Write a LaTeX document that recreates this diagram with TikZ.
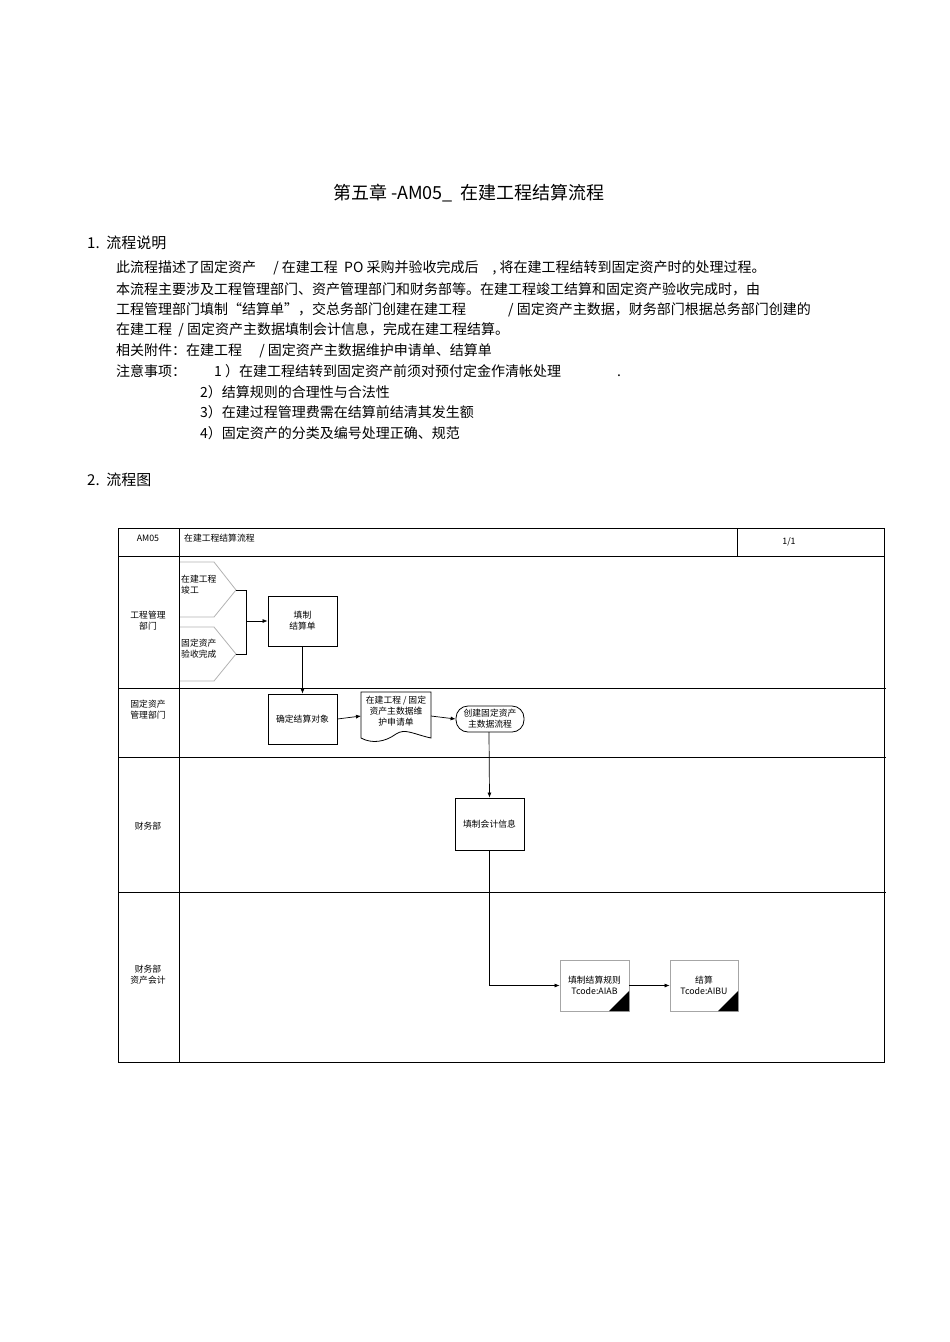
\documentclass[tikz,border=0pt]{standalone}
\usepackage{fontspec}
\setmainfont{Liberation Sans}
\newfontfamily\cjk{Noto Sans CJK SC}
\usetikzlibrary{arrows.meta}
\begin{document}
\begin{tikzpicture}[x=1pt,y=-1pt,
  bt/.style={anchor=west,inner sep=0pt,font=\fontsize{14}{16}\selectfont},
  sm/.style={font=\fontsize{8.8}{10.8}\selectfont,align=center,inner sep=0pt},
  box/.style={draw,line width=0.8pt},
  arr/.style={-{Latex[length=5pt,width=4pt]},line width=0.7pt},
  ln/.style={line width=0.7pt}]
\useasboundingbox (0,0) rectangle (950,1342);
\cjk
\node[inner sep=0pt,font=\fontsize{18}{20}\selectfont] (title) at (469,193) {第五章 -AM05\_\ \ 在建工程结算流程};
\node[bt,font=\fontsize{15}{17}\selectfont] (h1) at (87,243) {1.\ \ 流程说明};
\node[bt] (l1) at (116,268) {此流程描述了固定资产\quad\ / 在建工程\ \ PO 采购并验收完成后\quad , 将在建工程结转到固定资产时的处理过程。};
\node[bt] (l2) at (116,289) {本流程主要涉及工程管理部门、资产管理部门和财务部等。在建工程竣工结算和固定资产验收完成时，由};
\node[bt] (l3) at (116,310) {工程管理部门填制“结算单”，交总务部门创建在建工程\qquad\quad / 固定资产主数据，财务部门根据总务部门创建的};
\node[bt] (l4) at (116,330) {在建工程\ \ / 固定资产主数据填制会计信息，完成在建工程结算。};
\node[bt] (l5) at (116,351) {相关附件：在建工程\quad\ / 固定资产主数据维护申请单、结算单};
\node[bt] (l6) at (116,371) {注意事项：\qquad 1 ）在建工程结转到固定资产前须对预付定金作清帐处理\qquad\qquad .};
\node[bt] (l7) at (200,392) {2）结算规则的合理性与合法性};
\node[bt] (l8) at (200,412) {3）在建过程管理费需在结算前结清其发生额};
\node[bt] (l9) at (200,433) {4）固定资产的分类及编号处理正确、规范};
\node[bt,font=\fontsize{15}{17}\selectfont] (h2) at (87,480) {2.\ \ 流程图};
% table
\draw[line width=0.9pt] (118,528) rectangle (884,1062);
\draw[ln] (118,556) -- (884,556);
\draw[ln] (179,528) -- (179,1062);
\draw[ln] (737,528) -- (737,556);
\draw[ln] (118,688) -- (886,688);
\draw[ln] (118,757) -- (886,757);
\draw[ln] (118,892) -- (886,892);
\node[sm] (am) at (148,538) {AM05};
\node[sm,anchor=west] (tt) at (184,538) {在建工程结算流程};
\node[sm] (pg) at (789,542) {1/1};
\node[sm] (lane1) at (148,621) {工程管理\\部门};
\node[sm] (lane2) at (148,710) {固定资产\\管理部门};
\node[sm] (lane3) at (148,826) {财务部};
\node[sm] (lane4) at (148,975) {财务部\\资产会计};
% pentagons
\draw[gray!60,line width=0.8pt] (180,562) -- (214,562) -- (236,590) -- (214,617) -- (180,617);
\draw[gray!60,line width=0.8pt] (180,627) -- (214,627) -- (236,654) -- (214,681) -- (180,681);
\node[sm,anchor=north west,align=left] (p1) at (181,575) {在建工程\\竣工};
\node[sm,anchor=north west,align=left] (p2) at (181,639) {固定资产\\验收完成};
\coordinate (t1) at (236,590); \coordinate (t2) at (236,654);
\coordinate (j) at (246,621);
% boxes
\node[box,minimum width=69pt,minimum height=50pt,sm] (b1) at (302.5,621) {填制\\结算单};
\node[box,minimum width=69pt,minimum height=50pt,sm] (b2) at (302.5,719) {确定结算对象};
\draw[box] (361,692) -- (431,692) -- (431,738) .. controls (413,734) and (405,728) .. (396,734) .. controls (385,742) and (372,744) .. (361,738) -- cycle;
\node[sm] (doc) at (396,711) {在建工程 / 固定\\资产主数据维\\护申请单};
\coordinate (docw) at (361,716); \coordinate (doce) at (431,716);
\node[draw,line width=0.8pt,rounded corners=12pt,minimum width=68pt,minimum height=26pt,sm] (term) at (490,719) {创建固定资产\\主数据流程};
\node[box,minimum width=69pt,minimum height=52pt,sm] (b3) at (489.5,824) {填制会计信息};
\node[draw,gray!70,line width=0.8pt,minimum width=69pt,minimum height=51pt] (b4) at (594.5,985.5) {};
\node[sm] at (594.5,985.5) {填制结算规则\\Tcode:AIAB};
\fill (629,1011) -- (629,991) -- (609,1011) -- cycle;
\node[draw,gray!70,line width=0.8pt,minimum width=68pt,minimum height=51pt] (b5) at (704,985.5) {};
\node[sm] at (704,985.5) {结算\\Tcode:AIBU};
\fill (738,1011) -- (738,991) -- (718,1011) -- cycle;
% connectors
\draw[ln] (t1) -- (246,590) -- (246,654) -- (t2);
\draw[arr] (j) -- (b1.west);
\draw[arr] (b1.south) -- (b2.north);
\draw[arr] (b2.east) -- (docw);
\draw[arr] (doce) -- (term.west);
\draw[arr] (489,732) -- (b3.north);
\draw[arr] (b3.south) |- (b4.west);
\draw[arr] (b4.east) -- (b5.west);
\end{tikzpicture}
\end{document}
